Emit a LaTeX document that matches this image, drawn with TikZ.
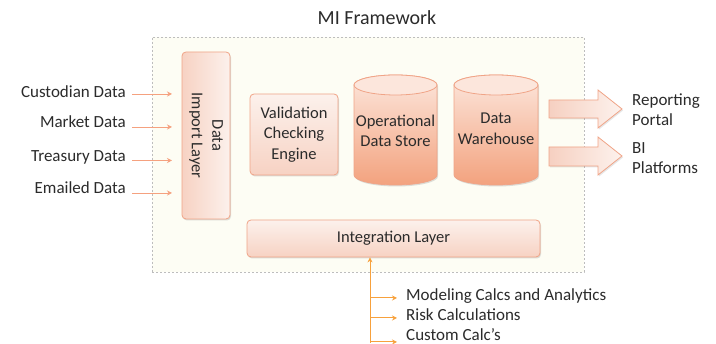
\documentclass[tikz,border=0pt]{standalone}
\usepackage{fontspec}
\setmainfont{Carlito}
\usetikzlibrary{shadows,arrows.meta}
\definecolor{txt}{HTML}{2B2B2B}
\definecolor{frameborder}{HTML}{BDBDBD}
\definecolor{framefill}{HTML}{FDFDF4}
\definecolor{boxborder}{HTML}{F0A487}
\definecolor{boxtop}{HTML}{FCF1EC}
\definecolor{boxbot}{HTML}{F7D2C3}
\definecolor{cyltop}{HTML}{FCE6DC}
\definecolor{cylbot}{HTML}{F3A27E}
\definecolor{feedc}{HTML}{F5A17F}
\definecolor{calcc}{HTML}{F7A13D}
\definecolor{arrl}{HTML}{F6D0C1}
\definecolor{arrr}{HTML}{FDF2ED}
\begin{document}
\begin{tikzpicture}[x=1pt,y=1pt,
  lab/.style={font=\fontsize{17}{20}\selectfont, text=txt, inner sep=0pt, align=left},
  boxtext/.style={font=\fontsize{16.5}{20.5}\selectfont, text=txt, inner sep=0pt, align=center},
  box/.style={boxtext, draw=boxborder, line width=0.8pt, rounded corners=4pt,
    top color=boxtop, bottom color=boxbot,
    drop shadow={shadow xshift=1pt, shadow yshift=-1.5pt, opacity=0.25}},
  cyl/.style={draw=boxborder, line width=0.8pt, top color=cyltop, bottom color=cylbot,
    drop shadow={shadow xshift=1pt, shadow yshift=-1.5pt, opacity=0.25}},
  feed/.style={draw=feedc, line width=0.9pt, -{Stealth[length=5pt,width=5pt]}},
  calcarrow/.style={draw=calcc, line width=1pt, -{Stealth[length=5pt,width=5pt]}},
  bigarrow/.style={draw=boxborder, line width=0.8pt, left color=arrl, right color=arrr,
    drop shadow={shadow xshift=1pt, shadow yshift=-1.5pt, opacity=0.2}},
  frame/.style={draw=frameborder, line width=0.7pt, dash pattern=on 2pt off 2pt, fill=framefill}
]
\useasboundingbox (0,0) rectangle (716,344);

% title and frame
\node[font=\fontsize{20}{24}\selectfont, text=txt, inner sep=0pt] (title) at (377,326) {MI Framework};
\node[frame, minimum width=432pt, minimum height=235pt, inner sep=0pt] (frame) at (368,189.5) {};

% data import layer
\node[box, left color=boxbot, right color=boxtop, minimum width=48pt, minimum height=167pt] (imp) at (206,208.5) {};
\node[boxtext, rotate=-90] (impt) at (imp.center) {Data\\Import Layer};

% inputs
\node[lab, anchor=east] (in1) at (126,252) {Custodian Data};
\node[lab, anchor=east] (in2) at (126,222) {Market Data};
\node[lab, anchor=east] (in3) at (126,187) {Treasury Data};
\node[lab, anchor=east] (in4) at (126,156) {Emailed Data};
\coordinate (a1) at (132,250); \coordinate (b1) at (172,250);
\coordinate (a2) at (132,217); \coordinate (b2) at (172,217);
\coordinate (a3) at (132,183.5); \coordinate (b3) at (172,183.5);
\coordinate (a4) at (132,151); \coordinate (b4) at (172,151);
\draw[feed] (a1) -- (b1);
\draw[feed] (a2) -- (b2);
\draw[feed] (a3) -- (b3);
\draw[feed] (a4) -- (b4);

% validation
\node[box, minimum width=88pt, minimum height=81pt] (val) at (294,209.5) {Validation\\Checking\\Engine};

% cylinders
\path[cyl] (354,259) -- (354,169) arc[start angle=180, end angle=360, x radius=41.5, y radius=10]
  -- (437,259) arc[start angle=0, end angle=180, x radius=41.5, y radius=10] -- cycle;
\draw[draw=boxborder, line width=0.8pt, fill=cyltop] (395.5,259) ellipse[x radius=41.5, y radius=10];
\node[boxtext] (ods) at (395.5,213) {Operational\\Data Store};

\path[cyl] (454,259) -- (454,169) arc[start angle=180, end angle=360, x radius=42, y radius=10]
  -- (538,259) arc[start angle=0, end angle=180, x radius=42, y radius=10] -- cycle;
\draw[draw=boxborder, line width=0.8pt, fill=cyltop] (496,259) ellipse[x radius=42, y radius=10];
\node[boxtext] (dw) at (496,215) {Data\\Warehouse};

% output arrows
\path[bigarrow] (549,226) -- (598,226) -- (598,216) -- (622,235) -- (598,254) -- (598,244) -- (549,244) -- cycle;
\path[bigarrow] (549,178) -- (598,178) -- (598,169) -- (622,188) -- (598,207) -- (598,197) -- (549,197) -- cycle;
\node[lab, anchor=west] (rep) at (632,234) {Reporting\\Portal};
\node[lab, anchor=west] (bi) at (632,186) {BI\\Platforms};

% integration layer
\node[box, minimum width=293pt, minimum height=37pt] (int) at (393.5,105.5) {Integration Layer};

% calcs
\coordinate (bot) at (370,1);
\draw[calcarrow] (bot) -- (bot |- int.south);
\coordinate (c1) at (370,46); \coordinate (d1) at (397,46);
\coordinate (c2) at (370,26); \coordinate (d2) at (397,26);
\coordinate (c3) at (370,2); \coordinate (d3) at (397,2);
\draw[calcarrow] (c1) -- (d1);
\draw[calcarrow] (c2) -- (d2);
\draw[calcarrow] (c3) -- (d3);
\node[lab, anchor=west] (m1) at (406,48) {Modeling Calcs and Analytics};
\node[lab, anchor=west] (m2) at (406,29) {Risk Calculations};
\node[lab, anchor=west] (m3) at (406,9.5) {Custom Calc’s};
\end{tikzpicture}
\end{document}
